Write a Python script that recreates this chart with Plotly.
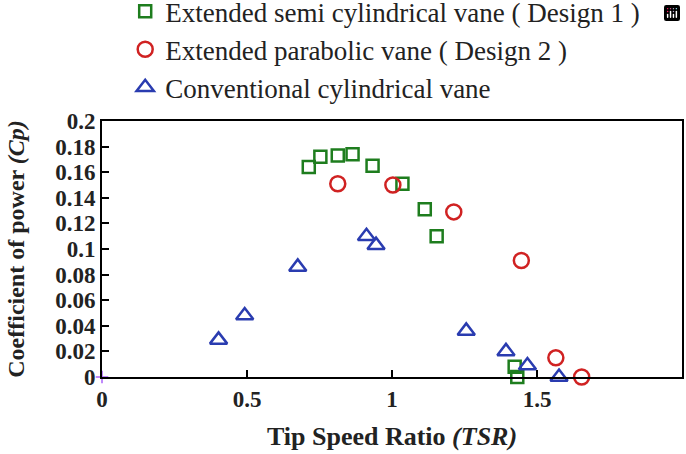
import plotly.graph_objects as go

tsr_d1 = [0.713, 0.753, 0.813, 0.864, 0.933, 1.036, 1.113, 1.154, 1.423, 1.432]
cp_d1 = [0.164, 0.172, 0.173, 0.174, 0.165, 0.151, 0.131, 0.110, 0.008, 0.0]

tsr_d2 = [0.813, 1.003, 1.213, 1.446, 1.565, 1.654]
cp_d2 = [0.151, 0.150, 0.129, 0.091, 0.015, 0.0]

tsr_conv = [0.402, 0.492, 0.675, 0.912, 0.945, 1.256, 1.393, 1.467, 1.576]
cp_conv = [0.029, 0.048, 0.086, 0.110, 0.103, 0.036, 0.020, 0.009, 0.0]

names = ["Extended semi cylindrical vane ( Design 1 )",
         "Extended parabolic vane ( Design 2 )",
         "Conventional cylindrical vane"]

x_ticks = [0, 0.5, 1, 1.5, 2]
x_tick_labels = ["0", "0.5", "1", "1.5", "2"]
y_ticks = [0, 0.02, 0.04, 0.06, 0.08, 0.1, 0.12, 0.14, 0.16, 0.18, 0.2]
y_tick_labels = ["0", "0.02", "0.04", "0.06", "0.08", "0.1", "0.12", "0.14", "0.16", "0.18", "0.2"]

serif = "Liberation Serif, Times New Roman, serif"

fig = go.Figure()
fig.add_trace(go.Scatter(x=tsr_d1, y=cp_d1, mode="markers", name=names[0],
                         marker=dict(symbol="square-open", size=12, color="#1e7d1e",
                                     line=dict(width=2.5, color="#1e7d1e"))))
fig.add_trace(go.Scatter(x=tsr_d2, y=cp_d2, mode="markers", name=names[1],
                         marker=dict(symbol="circle-open", size=15, color="#d02222",
                                     line=dict(width=2.5, color="#d02222"))))
fig.add_trace(go.Scatter(x=tsr_conv, y=cp_conv, mode="markers", name=names[2],
                         marker=dict(symbol="triangle-up-open", size=15, color="#2a3cb0",
                                     line=dict(width=2.5, color="#2a3cb0"))))
fig.add_trace(go.Scatter(x=[0], y=[0], mode="markers", showlegend=False,
                         marker=dict(symbol="cross-thin-open", size=9,
                                     line=dict(width=1.5, color="#8a6fc0"))))

axis_common = dict(showgrid=False, zeroline=False, showline=True, linecolor="black",
                   linewidth=2, mirror=True, ticks="inside", ticklen=7, tickwidth=2,
                   tickcolor="black", automargin=False)

fig.update_layout(
    width=686, height=454,
    margin=dict(l=102, r=4, t=121, b=77, autoexpand=False),
    plot_bgcolor="white", paper_bgcolor="white",
    font=dict(family=serif, color="black"),
    modebar=dict(bgcolor="rgba(0,0,0,0)", color="rgba(0,0,0,0)", activecolor="rgba(0,0,0,0)"),
    legend=dict(x=0.040, y=1.523, xanchor="left", yanchor="top",
                font=dict(family=serif, size=27, color="#222"),
                bgcolor="rgba(0,0,0,0)", itemwidth=30, tracegroupgap=0),
    xaxis=dict(range=[0, 2], tickvals=x_ticks,
               ticktext=["<b>%s</b>" % t for t in x_tick_labels],
               tickfont=dict(family=serif, size=23, color="#222"),
               title=dict(text="<b>Tip Speed Ratio <i>(TSR)</i></b>",
                          font=dict(family=serif, size=26, color="#222"), standoff=16),
               **axis_common),
    yaxis=dict(range=[0, 0.2], tickvals=y_ticks,
               ticktext=["<b>%s</b>" % t for t in y_tick_labels],
               tickfont=dict(family=serif, size=23, color="#222"),
               title=dict(text="<b>Coefficient of power <i>(Cp)</i></b>",
                          font=dict(family=serif, size=24, color="#222"), standoff=24),
               **axis_common),
)
fig.update_traces(cliponaxis=False)

fig.write_html("out.html", post_script="document.body.style.margin='0px';")
